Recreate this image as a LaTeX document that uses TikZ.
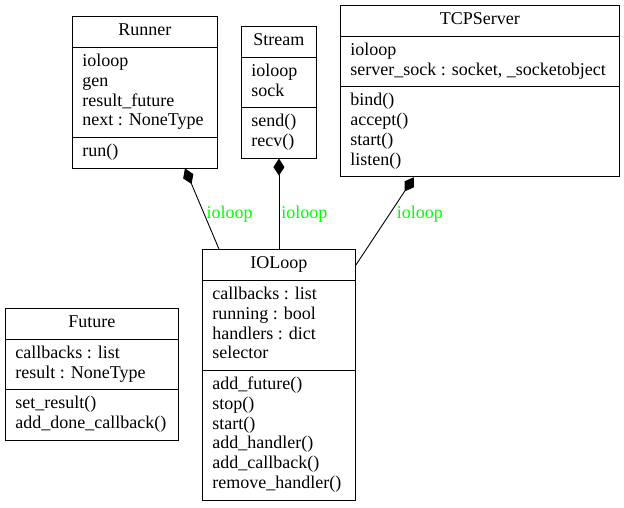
\documentclass[tikz,border=0pt]{standalone}
\usepackage{fontspec}
\setmainfont{Liberation Serif}
\usetikzlibrary{arrows.meta,shapes.multipart}

\begin{document}
\begin{tikzpicture}[x=1pt, y=-1pt,
  font=\fontsize{18pt}{19.8pt}\selectfont,
  umlclass/.style={draw, line width=0.9pt, rectangle split, rectangle split parts=3,
    rectangle split part align={center,left,left}, align=left,
    inner xsep=10pt, inner ysep=5pt, anchor=north west},
  owner/.style={line width=0.9pt, -{Diamond[length=17pt, width=11pt]}},
  lbl/.style={text=green, anchor=west, inner sep=2pt}]
\useasboundingbox (0,0) rectangle (624,507);
\node[umlclass, minimum width=145pt] (runner) at (72,16)
  {\strut Runner
   \nodepart{two}\strut ioloop\\\strut gen\\\strut result\_future\\\strut next : NoneType
   \nodepart{three}\strut run()};
\node[umlclass, minimum width=75pt] (stream) at (241,26)
  {\strut Stream
   \nodepart{two}\strut ioloop\\\strut sock
   \nodepart{three}\strut send()\\\strut recv()};
\node[umlclass, minimum width=279pt] (tcpserver) at (340,5)
  {\strut TCPServer
   \nodepart{two}\strut ioloop\\\strut server\_sock : socket, \_socketobject
   \nodepart{three}\strut bind()\\\strut accept()\\\strut start()\\\strut listen()};
\node[umlclass, minimum width=153pt] (ioloop) at (202,249)
  {\strut IOLoop
   \nodepart{two}\strut callbacks : list\\\strut running : bool\\\strut handlers : dict\\\strut selector
   \nodepart{three}\strut add\_future()\\\strut stop()\\\strut start()\\\strut add\_handler()\\\strut add\_callback()\\\strut remove\_handler()};
\node[umlclass, minimum width=173pt] (future) at (5,308)
  {\strut Future
   \nodepart{two}\strut callbacks : list\\\strut result : NoneType
   \nodepart{three}\strut set\_result()\\\strut add\_done\_callback()};
% composition edges
\draw[owner] ([xshift=-60pt]ioloop.north) -- node[lbl, pos=.435]{ioloop} ([xshift=40pt]runner.south);
\draw[owner] (ioloop.north) -- node[lbl, pos=.39]{ioloop} (stream.south);
\draw[owner] ([yshift=-16pt]ioloop.north east) -- node[lbl, pos=.577, xshift=5pt]{ioloop} ([xshift=-66pt]tcpserver.south);
\end{tikzpicture}
\end{document}
